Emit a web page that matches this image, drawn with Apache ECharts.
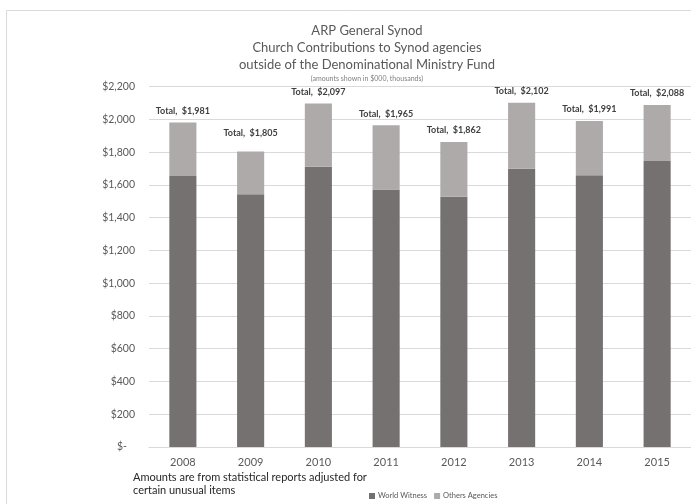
<!DOCTYPE html>
<html>
<head>
<meta charset="utf-8">
<script src="https://cdn.jsdelivr.net/npm/echarts@6/dist/echarts.min.js"></script>
<style>html,body{margin:0;padding:0;background:#fff}#c{width:691px;height:504px}</style>
</head>
<body>
<div id="c"></div>
<script>
const years = ['2008','2009','2010','2011','2012','2013','2014','2015'];
const worldWitness = [1654, 1543, 1711, 1573, 1528, 1699, 1659, 1746];
const othersAgencies = [327, 262, 386, 392, 334, 403, 332, 342];
const yTicks = [0, 200, 400, 600, 800, 1000, 1200, 1400, 1600, 1800, 2000, 2200];
const titleLines = ['ARP General Synod', 'Church Contributions to Synod agencies', 'outside of the Denominational Ministry Fund'];
const subTitle = '(amounts shown in $000, thousands)';
const footnote = ['Amounts are from statistical reports adjusted for', 'certain unusual items'];

const totals = worldWitness.map((v, i) => v + othersAgencies[i]);
const fmt = v => v.toLocaleString('en-US');
const FONT = 'Lato, Carlito, "Open Sans", sans-serif';

const chart = echarts.init(document.getElementById('c'), null, {renderer: 'canvas'});
chart.setOption({
  animation: false,
  textStyle: {fontFamily: FONT},
  title: {
    text: titleLines.join('\n'),
    subtext: subTitle,
    left: 362, top: 17, textAlign: 'center',
    itemGap: 2,
    textStyle: {fontFamily: FONT, fontSize: 13, fontWeight: 'normal', color: '#595959', lineHeight: 17},
    subtextStyle: {fontFamily: FONT, fontSize: 7, color: '#7f7f7f'}
  },
  graphic: [
    {type: 'rect', z: -1, shape: {x: 6.5, y: 10.5, width: 720, height: 520}, style: {fill: 'none', stroke: '#d9d9d9', lineWidth: 1}},
    {type: 'text', left: 133, top: 471, style: {text: footnote.join('\n'), font: '11px ' + FONT, fill: '#262626', lineHeight: 13}}
  ],
  legend: {
    data: ['World Witness', 'Others Agencies'],
    left: 364, top: 487,
    icon: 'rect', itemWidth: 6, itemHeight: 6, itemGap: 7,
    textStyle: {fontFamily: FONT, fontSize: 7.5, color: '#595959', padding: [0, 0, 0, -2]}
  },
  grid: {left: 149, right: -3, top: 86.7, bottom: 57, containLabel: false},
  xAxis: {
    type: 'category', data: years,
    axisLine: {lineStyle: {color: '#d9d9d9'}},
    axisTick: {show: false},
    axisLabel: {color: '#595959', fontSize: 11, margin: 10, fontFamily: FONT}
  },
  yAxis: {
    type: 'value', min: yTicks[0], max: yTicks[yTicks.length - 1], interval: 200,
    axisLine: {show: false}, axisTick: {show: false},
    splitLine: {lineStyle: {color: '#d9d9d9'}},
    axisLabel: {color: '#595959', fontSize: 10.5, margin: 14, fontFamily: FONT,
      formatter: v => v === 0 ? '$-   ' : '$' + fmt(v)}
  },
  series: [
    {name: 'World Witness', type: 'bar', stack: 'a', data: worldWitness, barWidth: '40%',
      itemStyle: {color: '#767171'}},
    {name: 'Others Agencies', type: 'bar', stack: 'a', data: othersAgencies, barWidth: '40%',
      itemStyle: {color: '#aeaaaa'}},
    {name: 'Total', type: 'line', symbol: 'circle', symbolSize: 0, showSymbol: true, silent: true,
      data: totals.map((v, i) => i === 1 ? {value: v, label: {offset: [0, -7]}} : v),
      lineStyle: {width: 0, opacity: 0}, itemStyle: {color: 'rgba(0,0,0,0)'},
      label: {show: true, position: 'top', distance: 7, color: '#404040', fontSize: 9, fontWeight: 'bold', fontFamily: FONT,
        formatter: p => 'Total,  $' + fmt(p.value)}}
  ]
});
</script>
</body>
</html>
